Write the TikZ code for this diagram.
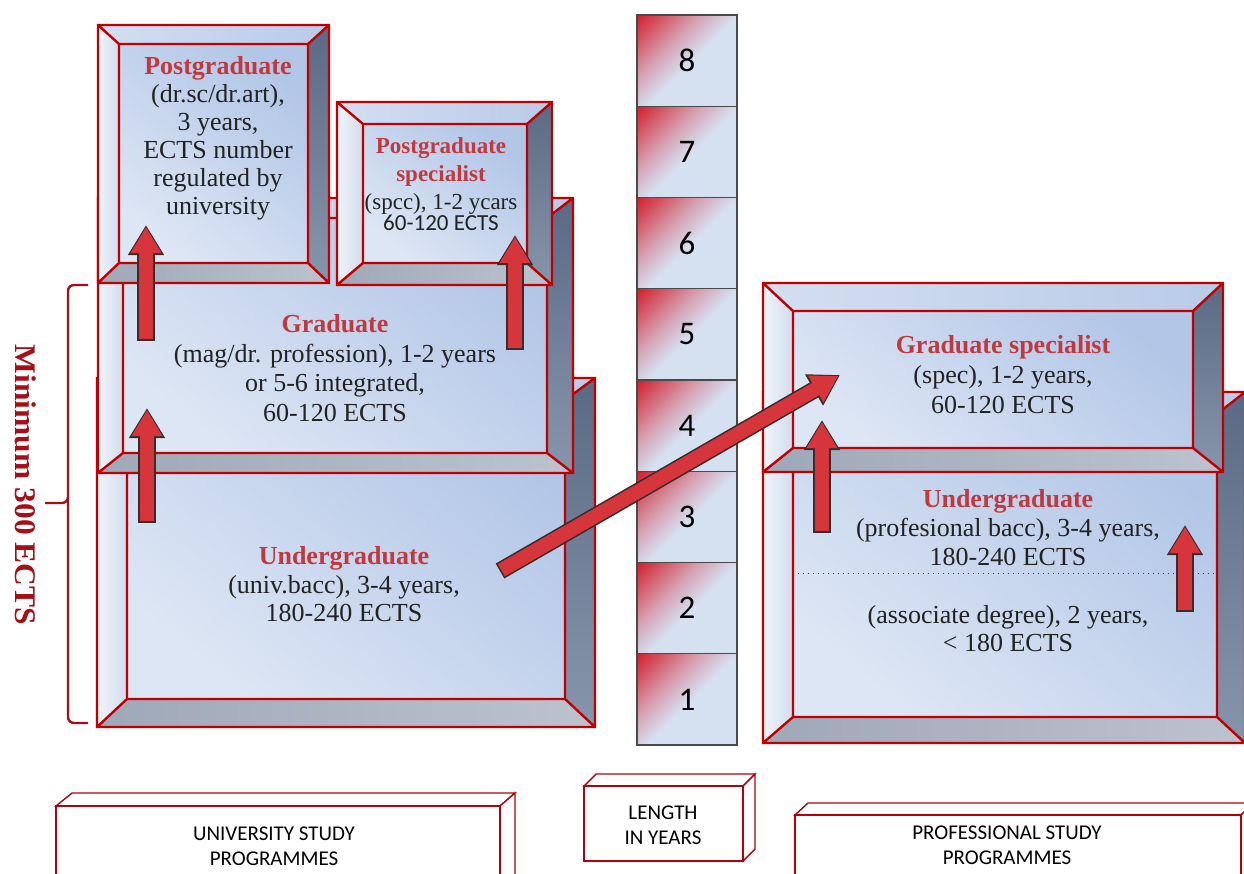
\documentclass[tikz,border=0pt]{standalone}
\usepackage{fontspec}
\setmainfont{Liberation Serif}
\newfontfamily\calfont{Carlito}
\usetikzlibrary{arrows.meta, positioning}

\definecolor{rimred}{HTML}{C00000}
\definecolor{titlered}{HTML}{C0393F}
\definecolor{bracered}{HTML}{A50F15}
\definecolor{faceblue}{HTML}{B2C6E7}
\definecolor{facelight}{HTML}{DDE6F4}
\definecolor{topA}{HTML}{D3DEF1}
\definecolor{topB}{HTML}{B9CBE8}
\definecolor{leftA}{HTML}{F0F4FA}
\definecolor{leftB}{HTML}{D2DCEE}
\definecolor{rightA}{HTML}{5B6A84}
\definecolor{rightB}{HTML}{8795AC}
\definecolor{botA}{HTML}{9FA8B8}
\definecolor{botB}{HTML}{BCC3CF}
\definecolor{arrowred}{HTML}{D7353C}
\definecolor{arrowdark}{HTML}{3B2B2B}
\definecolor{cellred}{HTML}{D2101E}
\definecolor{cellblue}{HTML}{D5E0F1}
\colorlet{cellpink}{cellred!30!cellblue}
\definecolor{cellline}{HTML}{4A4A4A}
\definecolor{platered}{HTML}{B3000C}
\definecolor{inkgray}{HTML}{222222}

\pgfdeclareverticalshading{cellshade}{100bp}{color(0bp)=(cellblue); color(48bp)=(cellblue); color(62bp)=(cellpink); color(88bp)=(cellred); color(100bp)=(cellred)}

\tikzset{
  rim/.style={draw=rimred, line width=1.2pt},
  leftface/.style={left color=leftA, right color=leftB},
  topface/.style={left color=topA, right color=topB},
  rightface/.style={top color=rightA, bottom color=rightB},
  bottomface/.style={left color=botA, right color=botB},
  frontface/.style={top color=faceblue, bottom color=facelight, shading angle=-40},
  boxtext/.style={align=center, inner sep=0pt, text=inkgray, font=\fontsize{13}{14}\selectfont},
  lencell/.style={draw=cellline, line width=0.6pt, shade, shading=cellshade, shading angle=45,
    minimum width=50pt, minimum height=45.625pt, inner sep=0pt, font=\calfont\fontsize{16.5}{18}\selectfont},
  plate/.style={draw=platered, line width=0.7pt, fill=white},
  platetext/.style={align=center, inner sep=0pt, font=\calfont\fontsize{10.5}{12.5}\selectfont},
  blockarrow/.style={draw=arrowred, line width=7pt, shorten >=1pt, shorten <=0.8pt,
    -{Triangle[width=14.5pt,length=13pt]},
    preaction={draw=arrowdark, line width=8.6pt, shorten >=0pt, shorten <=0pt,
      -{Triangle[width=17pt,length=15pt]}}},
}

% outer x1 y1 x2 y2, inner x1 y1 x2 y2
\newcommand{\bevelbox}[8]{%
  \shade[leftface] (#1,#2) -- (#5,#6) -- (#5,#8) -- (#1,#4) -- cycle;
  \shade[topface] (#1,#2) -- (#3,#2) -- (#7,#6) -- (#5,#6) -- cycle;
  \shade[rightface] (#3,#2) -- (#3,#4) -- (#7,#8) -- (#7,#6) -- cycle;
  \shade[bottomface] (#1,#4) -- (#3,#4) -- (#7,#8) -- (#5,#8) -- cycle;
  \shade[frontface] (#5,#6) rectangle (#7,#8);
  \draw[rim] (#1,#2) rectangle (#3,#4) (#5,#6) rectangle (#7,#8)
    (#1,#2) -- (#5,#6) (#3,#2) -- (#7,#6) (#1,#4) -- (#5,#8) (#3,#4) -- (#7,#8);
}
\newcommand{\boxtitle}[1]{\textcolor{titlered}{\textbf{#1}}}

\begin{document}
\begin{tikzpicture}[x=0.5pt, y=-0.5pt]
\useasboundingbox (0,0) rectangle (1244,874);
\clip (0,0) rectangle (1244,874);

% university study
\bevelbox{97}{378}{595}{727}{127}{400}{565}{699}
\bevelbox{98}{198}{573}{473}{123}{218}{547}{453}
\bevelbox{98}{25}{329}{283}{119}{44}{308}{263}
\bevelbox{337}{102}{552}{285}{363}{124}{527}{263}

\node[boxtext] (ugrad) at (344,584) {\boxtitle{Undergraduate}\\[0.5pt](univ.bacc), 3-4 years,\\180-240 ECTS};
\node[boxtext, font=\fontsize{13}{14.8}\selectfont] (grad) at (335,368) {\boxtitle{Graduate}\\(mag/dr. profession), 1-2 years\\or 5-6 integrated,\\60-120 ECTS};
\node[boxtext] (pgrad) at (218,138) {\boxtitle{Postgraduate}\\(dr.sc/dr.art),\\3 years,\\ECTS number\\regulated by\\university};
\node[boxtext, font=\fontsize{11.5}{14}\selectfont] (pspec) at (441,184) {\boxtitle{Postgraduate}\\\boxtitle{specialist}\\(spcc), 1-2 ycars\\[-3.5pt]{\calfont 60-120 ECTS}};

% professional study
\bevelbox{763}{392}{1245}{743}{793}{414}{1217}{717}
\bevelbox{763}{283}{1223}{472}{793}{311}{1193}{448}
\draw[rimred!80!purple, line width=0.5pt, dotted] (793,573) -- (1217,573);

\node[boxtext, font=\fontsize{13}{15}\selectfont] (gspec) at (1003,375) {\boxtitle{Graduate specialist}\\(spec), 1-2 years,\\60-120 ECTS};
\node[boxtext, font=\fontsize{13}{14.5}\selectfont] (pugrad) at (1008,528) {\boxtitle{Undergraduate}\\(profesional bacc), 3-4 years,\\180-240 ECTS};
\node[boxtext] (assoc) at (1008,629) {(associate degree), 2 years,\\< 180 ECTS};

% length in years
\foreach \n in {1,...,8}
  \node[lencell] (yr\n) at (687,{745-(\n-0.5)*91.25}) {\n};

% arrows
\coordinate (a1s) at (147,523); \coordinate (a1e) at (147,408);
\coordinate (a2s) at (146,341); \coordinate (a2e) at (146,225);
\coordinate (a3s) at (515,350); \coordinate (a3e) at (515,235);
\coordinate (a4s) at (500,571); \coordinate (a4e) at (840,375);
\coordinate (a5s) at (822,533); \coordinate (a5e) at (822,420);
\coordinate (a6s) at (1185,612); \coordinate (a6e) at (1185,525);
\draw[blockarrow] (a1s) -- (a1e);
\draw[blockarrow] (a2s) -- (a2e);
\draw[blockarrow] (a3s) -- (a3e);
\draw[blockarrow] (a4s) -- (a4e);
\draw[blockarrow] (a5s) -- (a5e);
\draw[blockarrow] (a6s) -- (a6e);

% minimum 300 ECTS
\draw[bracered, line width=1.2pt, rounded corners=3pt] (88,285) -- (68,285) -- (68,723) -- (88,723);
\draw[bracered, line width=1.2pt, rounded corners=3pt] (68,497) -- (68,503) -- (45,503);
\node[rotate=-90, text=bracered, inner sep=0pt, font=\bfseries\fontsize{15}{18}\selectfont] (minects) at (26,485) {\scalebox{1.05}[1]{Minimum 300 ECTS}};

% bottom plates
\filldraw[plate] (56,806) -- (72,793) -- (515,793) -- (500,806) -- cycle;
\filldraw[plate] (500,806) -- (515,793) -- (515,877) -- (500,890) -- cycle;
\filldraw[plate] (56,806) rectangle (500,890);
\node[platetext] (univ) at (274,846) {UNIVERSITY STUDY\\PROGRAMMES};

\filldraw[plate] (584,786) -- (596,774) -- (755,774) -- (743,786) -- cycle;
\filldraw[plate] (743,786) -- (755,774) -- (755,849) -- (743,861) -- cycle;
\filldraw[plate] (584,786) rectangle (743,861);
\node[platetext] (length) at (663,825) {LENGTH\\IN YEARS};

\filldraw[plate] (795,815) -- (808,803) -- (1254,803) -- (1241,815) -- cycle;
\filldraw[plate] (1241,815) -- (1254,803) -- (1254,890) -- (1241,890) -- cycle;
\filldraw[plate] (795,815) rectangle (1241,890);
\node[platetext] (prof) at (1007,845) {PROFESSIONAL STUDY\\PROGRAMMES};
\end{tikzpicture}
\end{document}
